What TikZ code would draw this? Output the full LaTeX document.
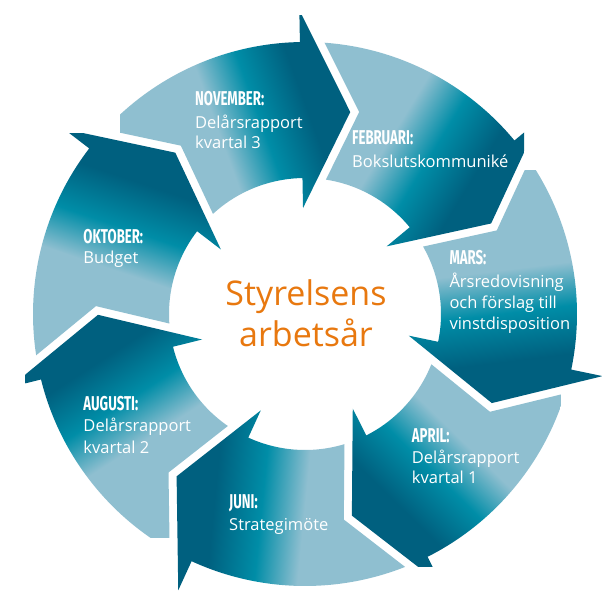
\documentclass[tikz,border=0pt]{standalone}
\usepackage{fontspec}
\setmainfont{Open Sans}
\newfontfamily\hdfam[FakeStretch=0.66]{Fira Sans}
\definecolor{lite}{HTML}{8FBFD0}
\definecolor{tealc}{HTML}{008DA7}
\definecolor{darkc}{HTML}{00607F}
\definecolor{titlec}{HTML}{E8780F}
\pgfdeclarehorizontalshading{segshade}{100bp}{color(0bp)=(lite); color(46bp)=(lite); color(55bp)=(tealc); color(65bp)=(darkc); color(100bp)=(darkc)}
\newcommand\segpath[1]{({#1+46.23}:272pt) arc[start angle={#1+46.23}, end angle={#1}, radius=272pt] -- ({#1}:304pt) -- ({#1-13.7}:207pt) -- ({#1}:106pt) -- ({#1}:136pt) arc[start angle={#1}, end angle={#1+41.51}, radius=136pt] -- ({#1+35.34}:209.2pt) -- cycle}
\tikzset{
  hd/.style={anchor=base west, inner sep=0pt, text=white, font=\hdfam\bfseries\fontsize{20}{20}\selectfont},
  tx/.style={anchor=base west, inner sep=0pt, text=white, font=\fontsize{16.5}{20}\selectfont},
  ttl/.style={anchor=base, inner sep=0pt, text=titlec, font=\fontsize{34}{40}\selectfont}
}
\begin{document}
\begin{tikzpicture}
\useasboundingbox[fill=white] (-305pt,-278pt) rectangle (298pt,314pt);
\foreach \B in {91.07, 39.64, -11.79, -63.21, -114.64, -166.07, 142.5} {
  \pgfmathsetmacro\ang{\B-71.1}
  \begin{scope}
    \clip \segpath{\B};
    \shade[shading=segshade, shading angle=\ang, shift={({\B+18.9}:190pt)}] (-120pt,-120pt) rectangle (120pt,120pt);
  \end{scope}
}
% labels
\node[hd] (novh) at (-110pt,208.3pt) {NOVEMBER:};
\node[tx] (nov1) at (-110pt,185.7pt) {Delårsrapport};
\node[tx] (nov2) at (-110pt,165.7pt) {kvartal 3};
\node[hd] (febh) at (47pt,169pt) {FEBRUARI:};
\node[tx] (feb1) at (47pt,146.7pt) {Bokslutskommuniké};
\node[hd] (marh) at (144.3pt,49pt) {MARS:};
\node[tx] (mar1) at (144.3pt,26.3pt) {Årsredovisning};
\node[tx] (mar2) at (144.3pt,5.5pt) {och förslag till};
\node[tx] (mar3) at (144.3pt,-15.3pt) {vinstdisposition};
\node[hd] (okth) at (-221.7pt,70.7pt) {OKTOBER:};
\node[tx] (okt1) at (-221.7pt,50.7pt) {Budget};
\node[hd] (augh) at (-221.7pt,-96.7pt) {AUGUSTI:};
\node[tx] (aug1) at (-221.7pt,-117.7pt) {Delårsrapport};
\node[tx] (aug2) at (-221.7pt,-139.3pt) {kvartal 2};
\node[hd] (junh) at (-76pt,-194.3pt) {JUNI:};
\node[tx] (jun1) at (-76pt,-216pt) {Strategimöte};
\node[hd] (aprh) at (106.7pt,-128.7pt) {APRIL:};
\node[tx] (apr1) at (106.7pt,-149.3pt) {Delårsrapport};
\node[tx] (apr2) at (106.7pt,-169.3pt) {kvartal 1};
\node[ttl] (t1) at (1pt,9pt) {Styrelsens};
\node[ttl] (t2) at (1pt,-32.7pt) {arbetsår};
\end{tikzpicture}
\end{document}
